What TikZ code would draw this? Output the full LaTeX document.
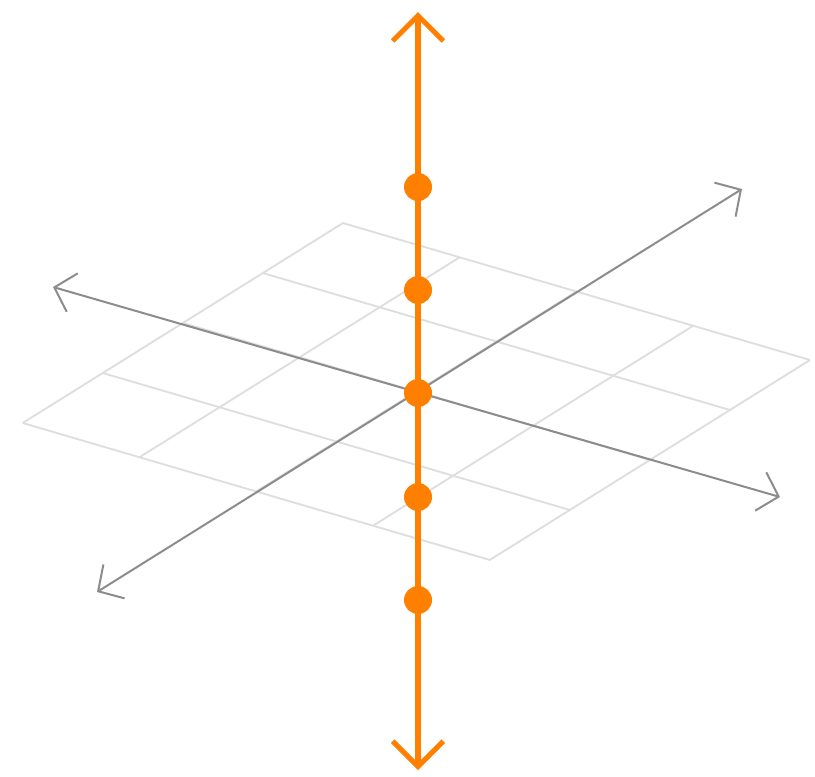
\documentclass[tikz,border=0pt]{standalone}
\usetikzlibrary{arrows.meta,calc}
\definecolor{axorange}{RGB}{255,128,0}
\definecolor{axgray}{RGB}{140,140,140}
\definecolor{gridgray}{RGB}{222,222,222}
\tikzset{
  gridline/.style={draw=gridgray,line width=1.4pt},
  grayaxis/.style={draw=axgray,line width=1.5pt,line cap=round,
    {Straight Barb[length=14pt,width=30pt,line width=1.5pt]}-{Straight Barb[length=14pt,width=30pt,line width=1.5pt]}},
  orangeaxis/.style={draw=axorange,line width=3.8pt,line cap=round,
    {Straight Barb[length=19pt,width=38pt,line width=3.8pt]}-{Straight Barb[length=19pt,width=38pt,line width=3.8pt]}},
  dot/.style={circle,fill=axorange,inner sep=0pt,minimum size=21pt}
}
\begin{document}
\begin{tikzpicture}[x=0.75pt,y=-0.75pt]
\useasboundingbox (0,0) rectangle (815,776);
% grid corners
\coordinate (L) at (22.7,423);
\coordinate (T) at (343,223);
\coordinate (B) at (490,560);
\foreach \i in {0,...,4}{
  \draw[gridline] ($(L)+\i*(116.75,34.25)$) -- ($(T)+\i*(116.75,34.25)$);
  \draw[gridline] ($(L)+\i*(80,-50)$) -- ($(B)+\i*(80,-50)$);
}
% gray axes
\coordinate (a1s) at (53,287);
\coordinate (a1e) at (780,497);
\coordinate (a2s) at (97,592);
\coordinate (a2e) at (742,189);
\draw[grayaxis] (a1s) -- (a1e);
\draw[grayaxis] (a2s) -- (a2e);
% orange axis
\coordinate (vt) at (418,12);
\coordinate (vb) at (418,770);
\draw[orangeaxis] (vb) -- (vt);
\foreach \y/\n in {187/d1,290/d2,393/d3,497/d4,600/d5}{
  \node[dot] (\n) at (418,\y) {};
}
\end{tikzpicture}
\end{document}
